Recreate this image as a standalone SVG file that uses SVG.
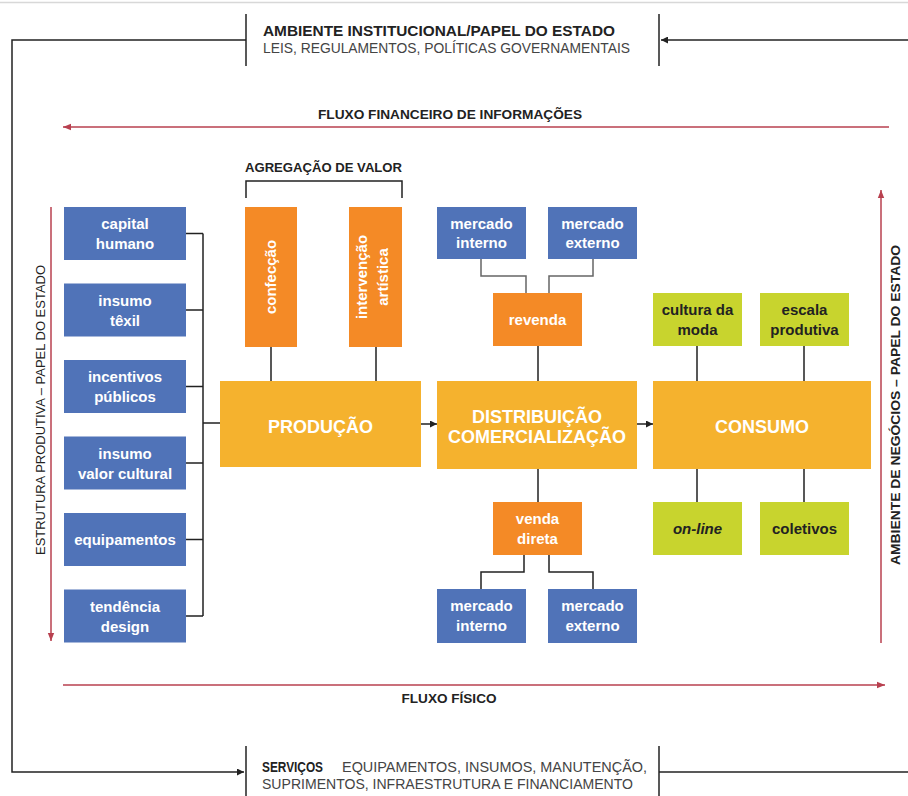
<svg xmlns="http://www.w3.org/2000/svg" width="908" height="796" viewBox="0 0 908 796">
<defs>
<style>
text{font-family:"Liberation Sans",Arial,sans-serif}
.blue{fill:#5073B8}
.yel{fill:#F5B22E}
.org{fill:#F48A26}
.lime{fill:#C8D42E}
.wt{fill:#fff;font-weight:bold;font-size:15px;text-anchor:middle}
.bt{fill:#fff;font-weight:bold;font-size:18px;text-anchor:middle}
.dt{fill:#222;font-weight:bold;font-size:15px;text-anchor:middle}
.ln{stroke:#222;stroke-width:1.5;fill:none}
.gl{stroke:#666;stroke-width:1.5;fill:none}
.rl{stroke:#B8404F;stroke-width:1.5;fill:none}
.lbl{fill:#222;font-weight:bold;font-size:13px}
</style>
<marker id="ab" viewBox="0 0 10 10" refX="10" refY="5" markerWidth="7" markerHeight="7" markerUnits="userSpaceOnUse" orient="auto"><path d="M0,0L10,5L0,10z" fill="#222"/></marker>
<marker id="ar" viewBox="0 0 10 10" refX="10" refY="5" markerWidth="8" markerHeight="8" markerUnits="userSpaceOnUse" orient="auto"><path d="M0,1L10,5L0,9z" fill="#B8404F"/></marker>
</defs>
<rect width="908" height="796" fill="#fff"/>
<line x1="0" y1="2.5" x2="908" y2="2.5" stroke="#d8d8d8" stroke-width="1.5"/>

<g id="connectors">
<!-- outer frame -->
<path class="ln" d="M246,40 H12 V772 H244" marker-end="url(#ab)"/>
<path class="ln" d="M908,40 H661" marker-end="url(#ab)"/>
<path class="ln" d="M659,772 H908"/>
<!-- red flows -->
<path class="rl" d="M889,127 H63" marker-end="url(#ar)"/>
<path class="rl" d="M63,685 H885" marker-end="url(#ar)"/>
<path class="rl" d="M51,207 V641" marker-end="url(#ar)"/>
<path class="rl" d="M881,643 V190" marker-end="url(#ar)"/>
<!-- left bracket -->
<path class="ln" d="M186,233.5 H203 M186,310 H203 M186,386.5 H203 M186,463 H203 M186,539.5 H203 M186,616 H203 M203,233.5 V616 M203,423 H220"/>
<!-- agregação bracket -->
<path class="ln" d="M246,198 V181 H402 V198"/>
<path class="ln" d="M271,347 V381 M376,347 V381"/>
<!-- main flow -->
<path class="ln" d="M421,424 H437" marker-end="url(#ab)"/>
<path class="ln" d="M637,424 H653" marker-end="url(#ab)"/>
<!-- revenda -->
<path class="gl" d="M481,259 V276 H526 V293 M593,259 V276 H549 V293"/>
<path class="ln" d="M538,346 V381 M538,469 V502"/>
<path class="ln" d="M524,555 V572 H481 V589 M549,555 V572 H593 V589"/>
<!-- consumo -->
<path class="ln" d="M697,346 V381 M804,346 V381 M697,469 V502 M804,469 V502"/>
</g>

<g id="header">
<line class="ln" x1="246" y1="14" x2="246" y2="66"/>
<line class="ln" x1="659" y1="14" x2="659" y2="66"/>
<text x="263" y="36" font-size="15" font-weight="bold" fill="#222" textLength="352" lengthAdjust="spacingAndGlyphs">AMBIENTE INSTITUCIONAL/PAPEL DO ESTADO</text>
<text x="263" y="53" font-size="15" fill="#444" textLength="367" lengthAdjust="spacingAndGlyphs">LEIS, REGULAMENTOS, POLÍTICAS GOVERNAMENTAIS</text>
</g>

<g id="footer">
<line class="ln" x1="246" y1="746" x2="246" y2="796"/>
<line class="ln" x1="659" y1="746" x2="659" y2="796"/>
<text x="262" y="772" font-size="15" font-weight="bold" fill="#222" textLength="61" lengthAdjust="spacingAndGlyphs">SERVIÇOS</text>
<text x="342" y="772" font-size="15" fill="#444" textLength="305" lengthAdjust="spacingAndGlyphs">EQUIPAMENTOS, INSUMOS, MANUTENÇÃO,</text>
<text x="262" y="789" font-size="15" fill="#444" textLength="371" lengthAdjust="spacingAndGlyphs">SUPRIMENTOS, INFRAESTRUTURA E FINANCIAMENTO</text>
</g>

<g id="flow-labels">
<text class="lbl" x="450" y="119" text-anchor="middle" textLength="264" lengthAdjust="spacingAndGlyphs">FLUXO FINANCEIRO DE INFORMAÇÕES</text>
<text class="lbl" x="449" y="703" text-anchor="middle" textLength="95" lengthAdjust="spacingAndGlyphs">FLUXO FÍSICO</text>
<text class="lbl" x="323.5" y="172" text-anchor="middle" textLength="157" lengthAdjust="spacingAndGlyphs">AGREGAÇÃO DE VALOR</text>
<text x="0" y="0" transform="translate(45,410) rotate(-90)" font-size="13" fill="#222" text-anchor="middle" textLength="290" lengthAdjust="spacingAndGlyphs">ESTRUTURA PRODUTIVA – PAPEL DO ESTADO</text>
<text class="lbl" x="0" y="0" transform="translate(900,405) rotate(-90)" text-anchor="middle" textLength="320" lengthAdjust="spacingAndGlyphs">AMBIENTE DE NEGÓCIOS – PAPEL DO ESTADO</text>
</g>

<g id="capital-humano"><rect class="blue" x="64" y="207" width="122" height="53"/><text class="wt" x="125" y="229">capital</text><text class="wt" x="125" y="249">humano</text></g>
<g id="insumo-textil"><rect class="blue" x="64" y="283.5" width="122" height="53"/><text class="wt" x="125" y="305.5">insumo</text><text class="wt" x="125" y="325.5">têxil</text></g>
<g id="incentivos-publicos"><rect class="blue" x="64" y="360" width="122" height="53"/><text class="wt" x="125" y="382">incentivos</text><text class="wt" x="125" y="402">públicos</text></g>
<g id="insumo-valor-cultural"><rect class="blue" x="64" y="436.5" width="122" height="53"/><text class="wt" x="125" y="458.5">insumo</text><text class="wt" x="125" y="478.5">valor cultural</text></g>
<g id="equipamentos"><rect class="blue" x="64" y="513" width="122" height="53"/><text class="wt" x="125" y="545">equipamentos</text></g>
<g id="tendencia-design"><rect class="blue" x="64" y="589.5" width="122" height="53"/><text class="wt" x="125" y="611.5">tendência</text><text class="wt" x="125" y="631.5">design</text></g>

<g id="confeccao"><rect class="org" x="245" y="207" width="52" height="140"/><text class="wt" transform="translate(271,277) rotate(-90)" x="0" y="5">confecção</text></g>
<g id="intervencao-artistica"><rect class="org" x="349" y="207" width="53" height="140"/><text class="wt" transform="translate(376,277) rotate(-90)" x="0" y="-9">intervenção</text><text class="wt" transform="translate(376,277) rotate(-90)" x="0" y="12">artística</text></g>

<g id="producao"><rect class="yel" x="220" y="381" width="201" height="86"/><text class="bt" x="320.5" y="433">PRODUÇÃO</text></g>
<g id="distribuicao"><rect class="yel" x="437" y="381" width="200" height="88"/><text class="bt" x="537" y="423">DISTRIBUIÇÃO</text><text class="bt" x="537" y="443">COMERCIALIZAÇÃO</text></g>
<g id="consumo"><rect class="yel" x="653" y="381" width="218" height="88"/><text class="bt" x="762" y="433">CONSUMO</text></g>

<g id="mercado-interno-top"><rect class="blue" x="437" y="207" width="89" height="52"/><text class="wt" x="481.5" y="229">mercado</text><text class="wt" x="481.5" y="248">interno</text></g>
<g id="mercado-externo-top"><rect class="blue" x="548" y="207" width="89" height="52"/><text class="wt" x="592.5" y="229">mercado</text><text class="wt" x="592.5" y="248">externo</text></g>
<g id="revenda"><rect class="org" x="493" y="293" width="89" height="53"/><text class="wt" x="537.5" y="325">revenda</text></g>
<g id="venda-direta"><rect class="org" x="493" y="502" width="89" height="53"/><text class="wt" x="537.5" y="524">venda</text><text class="wt" x="537.5" y="544">direta</text></g>
<g id="mercado-interno-bottom"><rect class="blue" x="437" y="589" width="89" height="54"/><text class="wt" x="481.5" y="611">mercado</text><text class="wt" x="481.5" y="631">interno</text></g>
<g id="mercado-externo-bottom"><rect class="blue" x="548" y="589" width="89" height="54"/><text class="wt" x="592.5" y="611">mercado</text><text class="wt" x="592.5" y="631">externo</text></g>

<g id="cultura-da-moda"><rect class="lime" x="653" y="293" width="89" height="53"/><text class="dt" x="697.5" y="315">cultura da</text><text class="dt" x="697.5" y="335">moda</text></g>
<g id="escala-produtiva"><rect class="lime" x="760" y="293" width="89" height="53"/><text class="dt" x="804.5" y="315">escala</text><text class="dt" x="804.5" y="335">produtiva</text></g>
<g id="on-line"><rect class="lime" x="653" y="502" width="89" height="53"/><text class="dt" x="697.5" y="534" font-style="italic">on-line</text></g>
<g id="coletivos"><rect class="lime" x="760" y="502" width="89" height="53"/><text class="dt" x="804.5" y="534">coletivos</text></g>
</svg>
